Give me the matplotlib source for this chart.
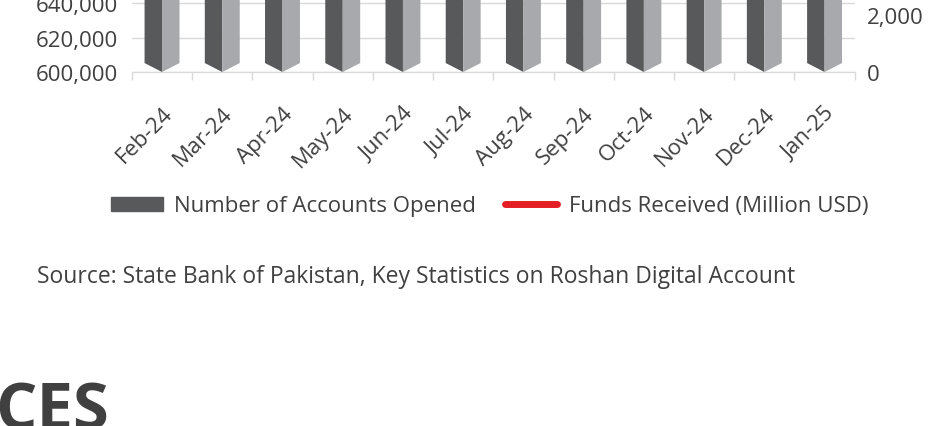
import matplotlib
matplotlib.use('Agg')
import matplotlib.pyplot as plt
import matplotlib.transforms as mtransforms
from matplotlib.patches import Patch
from matplotlib.lines import Line2D
from matplotlib.ticker import FuncFormatter, MultipleLocator

# Roshan Digital Account, monthly cumulative figures
months = ['Feb-24', 'Mar-24', 'Apr-24', 'May-24', 'Jun-24', 'Jul-24',
          'Aug-24', 'Sep-24', 'Oct-24', 'Nov-24', 'Dec-24', 'Jan-25']
accounts_opened = [765000, 773000, 780500, 787400, 794000, 800700,
                   807900, 815200, 822300, 829600, 836800, 843400]
funds_received = [7837, 7964, 8102, 8243, 8391, 8530,
                  8683, 8843, 9005, 9170, 9355, 9529]

DARK = '#58595b'
LIGHT = '#a7a9ac'
RED = '#e31e24'
TEXT = '#404040'
GRID = '#d9d9d9'

plt.rcParams['font.family'] = ['Open Sans', 'DejaVu Sans']

fig = plt.figure(figsize=(9.29, 4.27), dpi=100)
# plot area runs off the top of the picture (the crop only shows its bottom)
ax = fig.add_axes([0.142, 0.829, 0.778, 1.212])
ax2 = ax.twinx()

base = 600000
cap = 5200   # depth of the pointed bottom of each column
half = 0.29
for i, v in enumerate(accounts_opened):
    ax.fill([i - half, i - half, i, i], [v, base + cap, base, v],
            color=DARK, lw=0, zorder=3)
    ax.fill([i, i, i + half, i + half], [v, base, base + cap, v],
            color=LIGHT, lw=0, zorder=3)

ax2.plot(range(len(months)), funds_received, color=RED, lw=3, zorder=4)

ax.set_xlim(-0.5, len(months) - 0.5)
ax.set_ylim(600000, 900000)
ax2.set_ylim(0, 18000)

ax.yaxis.set_major_locator(MultipleLocator(20000))
ax2.yaxis.set_major_locator(MultipleLocator(2000))
ax.yaxis.set_major_formatter(FuncFormatter(lambda v, p: f'{v:,.0f}'))
ax2.yaxis.set_major_formatter(FuncFormatter(lambda v, p: f'{v:,.0f}'))
ax.grid(axis='y', color=GRID, lw=1, zorder=0)
ax.set_axisbelow(True)

ax.set_xticks(range(len(months)))
ax.set_xticklabels(months, rotation=45, ha='right', va='top',
                   rotation_mode='anchor')
shift = mtransforms.ScaledTranslation(-4 / 100, 0, fig.dpi_scale_trans)
for lbl in ax.get_xticklabels():
    lbl.set_transform(lbl.get_transform() + shift)
ax.set_xticks([i - 0.5 for i in range(len(months) + 1)], minor=True)
ax.tick_params(axis='x', which='major', length=0, pad=22, labelsize=16,
               labelcolor=TEXT)
ax.tick_params(axis='x', which='minor', length=6, color=GRID, width=1)
ax.tick_params(axis='y', length=0, pad=10, labelsize=16, labelcolor=TEXT)
ax2.tick_params(axis='y', length=0, pad=9, labelsize=16, labelcolor=TEXT)

for a in (ax, ax2):
    for side in ('top', 'left', 'right'):
        a.spines[side].set_visible(False)
    a.spines['bottom'].set_color(GRID)

handles = [Patch(color=DARK, label='Number of Accounts Opened'),
           Line2D([0], [0], color=RED, lw=5, solid_capstyle='round',
                  label='Funds Received (Million USD)')]
fig.legend(handles=handles, loc='center', bbox_to_anchor=(0.527, 1 - 207 / 427),
           ncol=2, frameon=False, fontsize=16, handlelength=2.35,
           handleheight=0.6, handletextpad=0.5, columnspacing=1.3,
           labelcolor=TEXT)

fig.text(0.04, 1 - 277 / 427, 'Source: State Bank of Pakistan, Key Statistics on Roshan Digital Account',
         fontsize=16.5, color=TEXT, va='center', ha='left')

fig.text(-0.005, -0.007, 'CES', fontsize=47, fontweight='bold', color=TEXT,
         ha='left', va='baseline')

fig.savefig('out.png', dpi=100)
